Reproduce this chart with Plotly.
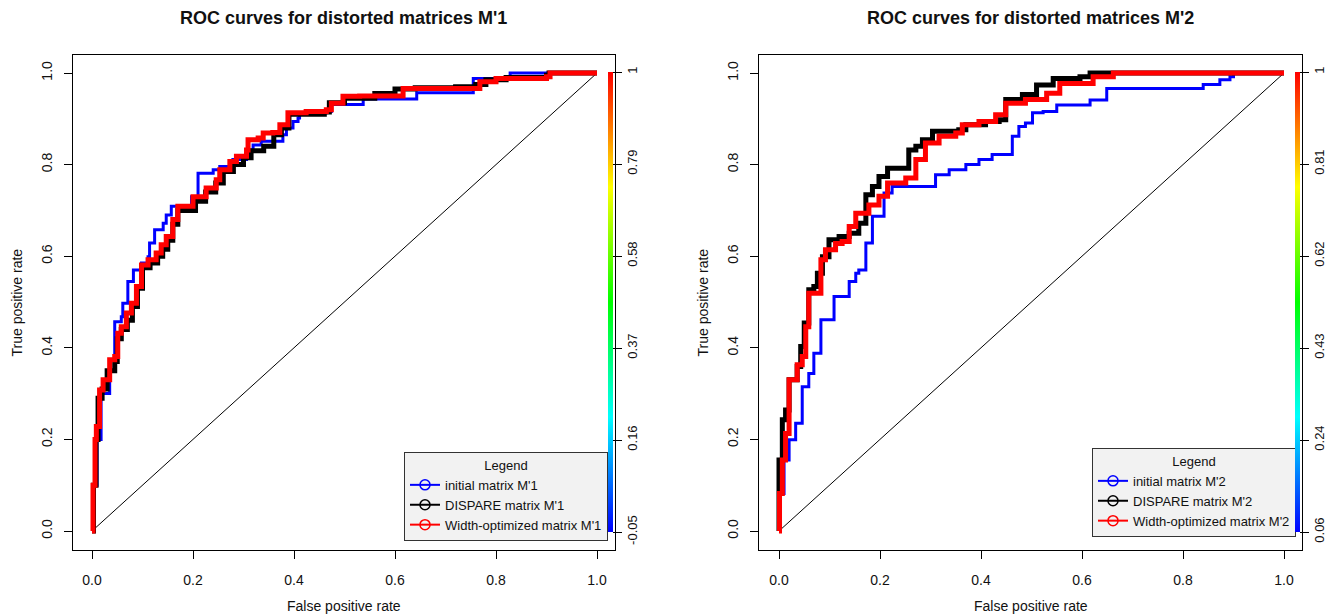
import numpy as np
import plotly.graph_objects as go

W, H = 1343, 615
FONT = "Liberation Sans, Arial, Helvetica, sans-serif"

# ---------------- data ----------------
titles = ["ROC curves for distorted matrices M'1", "ROC curves for distorted matrices M'2"]
series_names = [
    ["initial matrix M'1", "DISPARE matrix M'1", "Width-optimized matrix M'1"],
    ["initial matrix M'2", "DISPARE matrix M'2", "Width-optimized matrix M'2"],
]
series_colors = ["#0000FF", "#000000", "#FF0000"]
series_widths = [3, 5, 5]

# Panel 1 (M'1)
fpr_init_1 = [0, 0.004, 0.01, 0.018, 0.035, 0.045, 0.058, 0.061, 0.071, 0.071, 0.082, 0.082, 0.094, 0.098, 0.111, 0.114, 0.124, 0.141, 0.147, 0.157, 0.19, 0.197, 0.21, 0.236, 0.24, 0.253, 0.279, 0.306, 0.319, 0.335, 0.368, 0.378, 0.385, 0.398, 0.408, 0.411, 0.464, 0.474, 0.537, 0.643, 0.755, 0.828, 1.0]
tpr_init_1 = [0, 0.1, 0.2, 0.30, 0.374, 0.457, 0.468, 0.497, 0.497, 0.545, 0.545, 0.57, 0.57, 0.585, 0.599, 0.629, 0.658, 0.672, 0.69, 0.709, 0.709, 0.73, 0.781, 0.781, 0.789, 0.796, 0.811, 0.832, 0.843, 0.851, 0.851, 0.865, 0.88, 0.894, 0.902, 0.913, 0.916, 0.931, 0.943, 0.957, 0.988, 1.0, 1.0]

fpr_disp_1 = [0, 0.003, 0.008, 0.012, 0.02, 0.03, 0.045, 0.05, 0.058, 0.07, 0.08, 0.09, 0.1, 0.115, 0.13, 0.14, 0.15, 0.16, 0.17, 0.195, 0.205, 0.225, 0.245, 0.26, 0.28, 0.3, 0.315, 0.34, 0.36, 0.375, 0.39, 0.46, 0.47, 0.5, 0.56, 0.6, 0.64, 0.72, 0.76, 0.78, 0.82, 0.9, 0.905, 1.0]
tpr_disp_1 = [0, 0.1, 0.2, 0.29, 0.31, 0.35, 0.37, 0.42, 0.44, 0.46, 0.49, 0.53, 0.575, 0.585, 0.6, 0.615, 0.635, 0.67, 0.70, 0.70, 0.72, 0.74, 0.76, 0.785, 0.80, 0.815, 0.83, 0.84, 0.865, 0.88, 0.91, 0.915, 0.935, 0.945, 0.955, 0.965, 0.968, 0.97, 0.975, 0.985, 0.99, 0.995, 1.0, 1.0]

fpr_width_1 = [0, 0.002, 0.006, 0.0086, 0.015, 0.022, 0.035, 0.045, 0.051, 0.058, 0.068, 0.078, 0.088, 0.098, 0.111, 0.127, 0.137, 0.147, 0.16, 0.17, 0.19, 0.2, 0.213, 0.226, 0.246, 0.253, 0.273, 0.286, 0.306, 0.309, 0.329, 0.339, 0.358, 0.372, 0.388, 0.424, 0.464, 0.474, 0.497, 0.53, 0.6, 0.616, 0.755, 0.768, 0.8, 0.9, 0.907, 1.0]
tpr_width_1 = [0, 0.1, 0.2, 0.228, 0.308, 0.33, 0.374, 0.381, 0.432, 0.446, 0.476, 0.497, 0.534, 0.581, 0.592, 0.607, 0.625, 0.643, 0.68, 0.709, 0.709, 0.73, 0.73, 0.749, 0.767, 0.789, 0.807, 0.818, 0.832, 0.854, 0.858, 0.869, 0.87, 0.887, 0.913, 0.916, 0.92, 0.934, 0.949, 0.95, 0.95, 0.966, 0.966, 0.981, 0.988, 0.992, 1.0, 1.0]

# Panel 2 (M'2)
fpr_init_2 = [0, 0.003, 0.01, 0.02, 0.033, 0.046, 0.059, 0.069, 0.083, 0.106, 0.109, 0.132, 0.139, 0.152, 0.158, 0.172, 0.185, 0.208, 0.224, 0.29, 0.31, 0.337, 0.37, 0.396, 0.422, 0.452, 0.462, 0.475, 0.488, 0.502, 0.523, 0.55, 0.616, 0.649, 0.834, 0.84, 0.873, 0.893, 0.9, 1.0]
tpr_init_2 = [0, 0.082, 0.155, 0.199, 0.235, 0.315, 0.344, 0.388, 0.461, 0.461, 0.512, 0.512, 0.545, 0.563, 0.57, 0.629, 0.687, 0.738, 0.752, 0.752, 0.778, 0.789, 0.8, 0.811, 0.822, 0.822, 0.862, 0.883, 0.891, 0.913, 0.916, 0.93, 0.941, 0.966, 0.966, 0.975, 0.985, 0.992, 1.0, 1.0]

fpr_disp_2 = [0, 0, 0.0066, 0.013, 0.02, 0.036, 0.043, 0.05, 0.059, 0.069, 0.076, 0.086, 0.099, 0.119, 0.139, 0.158, 0.172, 0.185, 0.198, 0.215, 0.244, 0.257, 0.271, 0.284, 0.304, 0.356, 0.37, 0.409, 0.436, 0.449, 0.482, 0.51, 0.543, 0.596, 0.616, 1.0]
tpr_disp_2 = [0, 0.155, 0.243, 0.264, 0.33, 0.359, 0.403, 0.454, 0.527, 0.534, 0.563, 0.599, 0.636, 0.643, 0.65, 0.672, 0.734, 0.752, 0.774, 0.792, 0.792, 0.832, 0.84, 0.854, 0.873, 0.876, 0.887, 0.894, 0.898, 0.942, 0.953, 0.974, 0.988, 0.992, 1.0, 1.0]

fpr_width_2 = [0, 0.001, 0.0066, 0.013, 0.02, 0.036, 0.046, 0.053, 0.059, 0.072, 0.083, 0.092, 0.112, 0.125, 0.139, 0.152, 0.178, 0.198, 0.215, 0.251, 0.271, 0.29, 0.317, 0.35, 0.363, 0.396, 0.429, 0.449, 0.488, 0.53, 0.556, 0.622, 0.662, 1.0]
tpr_width_2 = [0, 0.082, 0.155, 0.213, 0.33, 0.363, 0.381, 0.446, 0.519, 0.519, 0.592, 0.614, 0.628, 0.632, 0.665, 0.694, 0.712, 0.731, 0.76, 0.771, 0.811, 0.847, 0.862, 0.869, 0.887, 0.894, 0.909, 0.934, 0.942, 0.956, 0.977, 0.992, 1.0, 1.0]

chance_x = [0, 1]
chance_y = [0, 1]

axis_ticks = [0.0, 0.2, 0.4, 0.6, 0.8, 1.0]
axis_ticktext = ["0.0", "0.2", "0.4", "0.6", "0.8", "1.0"]

cutoff_ranges = [(-0.05, 1.0), (0.06, 1.0)]
cutoff_ticktext = [["-0.05", "0.16", "0.37", "0.58", "0.79", "1"],
                   ["0.06", "0.24", "0.43", "0.62", "0.81", "1"]]

panels = [
    [(fpr_init_1, tpr_init_1), (fpr_disp_1, tpr_disp_1), (fpr_width_1, tpr_width_1)],
    [(fpr_init_2, tpr_init_2), (fpr_disp_2, tpr_disp_2), (fpr_width_2, tpr_width_2)],
]

# ---------------- layout geometry (pixels) ----------------
box_x = [(73, 615), (759, 1302)]
box_y = (55, 550)
x0_px = [92, 779]
px_per_unit_x = 505
y0_px, y1_px = 531, 73
px_per_unit_y = y0_px - y1_px

TXT = "#111111"
rainbow = [[0.0, "#0000FF"], [0.25, "#00FFFF"], [0.5, "#00FF00"], [0.75, "#FFFF00"], [1.0, "#FF0000"]]

fig = go.Figure()
layout_axes = {}
annotations = []

for p in range(2):
    xa = "x" if p == 0 else "x2"
    ya = "y" if p == 0 else "y2"
    xl, xr = box_x[p]
    xrange = [-(x0_px[p] - xl) / px_per_unit_x, 1 + (xr - (x0_px[p] + px_per_unit_x)) / px_per_unit_x]
    yrange = [-(box_y[1] - y0_px) / px_per_unit_y, 1 + (y1_px - box_y[0]) / px_per_unit_y]

    # chance line
    fig.add_trace(go.Scatter(x=chance_x, y=chance_y, mode="lines", xaxis=xa, yaxis=ya,
                             line=dict(color="black", width=1), showlegend=False, hoverinfo="skip"))
    # curves
    for s, (fx, ty) in enumerate(panels[p]):
        fig.add_trace(go.Scatter(x=fx, y=ty, mode="lines", xaxis=xa, yaxis=ya,
                                 line=dict(color=series_colors[s], width=series_widths[s], shape="hv"),
                                 showlegend=False, name=series_names[p][s]))
    # legend proxies
    for s in range(3):
        fig.add_trace(go.Scatter(x=[None], y=[None], mode="lines+markers", xaxis=xa, yaxis=ya,
                                 name=series_names[p][s],
                                 line=dict(color=series_colors[s], width=2),
                                 marker=dict(symbol="circle-open", size=10, color=series_colors[s],
                                             line=dict(width=1.5, color=series_colors[s])),
                                 legend="legend" if p == 0 else "legend2"))
    # colour key
    cmin, cmax = cutoff_ranges[p]
    strip_left = xr - 7
    fig.add_trace(go.Scatter(
        x=[None], y=[None], mode="markers", xaxis=xa, yaxis=ya, showlegend=False, hoverinfo="skip",
        marker=dict(color=[cmin, cmax], cmin=cmin, cmax=cmax, colorscale=rainbow, size=0.1, opacity=0,
                    showscale=True,
                    colorbar=dict(x=strip_left / W, xanchor="left", xpad=0, ypad=0,
                                  y=1 - ((y0_px + y1_px) / 2) / H, yanchor="middle",
                                  len=px_per_unit_y + 2, lenmode="pixels",
                                  thickness=5, thicknessmode="pixels", outlinewidth=0,
                                  tickmode="array", tickvals=list(np.linspace(cmin, cmax, 6)),
                                  ticktext=cutoff_ticktext[p],
                                  ticks="outside", ticklen=9, tickcolor="black", tickwidth=1,
                                  tickangle=-90, tickfont=dict(family=FONT, size=13, color=TXT)))))

    axis_common = dict(showline=True, linecolor="black", linewidth=1, mirror=True, showgrid=False,
                       zeroline=False, ticks="outside", ticklen=8, tickcolor="black",
                       tickmode="array", tickvals=axis_ticks, ticktext=axis_ticktext,
                       tickfont=dict(family=FONT, size=14, color=TXT))
    layout_axes["xaxis" if p == 0 else "xaxis2"] = dict(
        axis_common, domain=[xl / W, xr / W], range=xrange, anchor=ya, ticklabelstandoff=9)
    layout_axes["yaxis" if p == 0 else "yaxis2"] = dict(
        axis_common, domain=[1 - box_y[1] / H, 1 - box_y[0] / H], range=yrange, anchor=xa,
        tickangle=-90, ticklabelstandoff=6)

    cx = (xl + xr) / 2
    annotations.append(dict(text="<b>" + titles[p] + "</b>", x=cx / W, y=1 - 18 / H, xref="paper", yref="paper",
                            showarrow=False, xanchor="center", yanchor="middle",
                            font=dict(family=FONT, size=18, color=TXT)))
    annotations.append(dict(text="False positive rate", x=cx / W, y=1 - 606 / H, xref="paper", yref="paper",
                            showarrow=False, xanchor="center", yanchor="middle",
                            font=dict(family=FONT, size=14, color=TXT)))
    annotations.append(dict(text="True positive rate", x=(xl - 57) / W, y=1 - ((box_y[0] + box_y[1]) / 2) / H,
                            xref="paper", yref="paper", textangle=-90,
                            showarrow=False, xanchor="center", yanchor="middle",
                            font=dict(family=FONT, size=14, color=TXT)))

legend_common = dict(bgcolor="#F2F2F2", bordercolor="#333333", borderwidth=1,
                     font=dict(family=FONT, size=13, color=TXT),
                     title=dict(text="Legend", side="top center", font=dict(family=FONT, size=13, color=TXT)),
                     xanchor="right", yanchor="bottom", tracegroupgap=0, itemwidth=30)

fig.update_layout(
    width=W, height=H, margin=dict(l=0, r=0, t=0, b=0),
    paper_bgcolor="white", plot_bgcolor="white",
    font=dict(family=FONT, size=13, color=TXT),
    legend=dict(legend_common, x=608 / W, y=1 - 541 / H),
    legend2=dict(legend_common, x=1296 / W, y=1 - 537 / H),
    annotations=annotations,
    **layout_axes,
)

fig.write_html("out.html")
